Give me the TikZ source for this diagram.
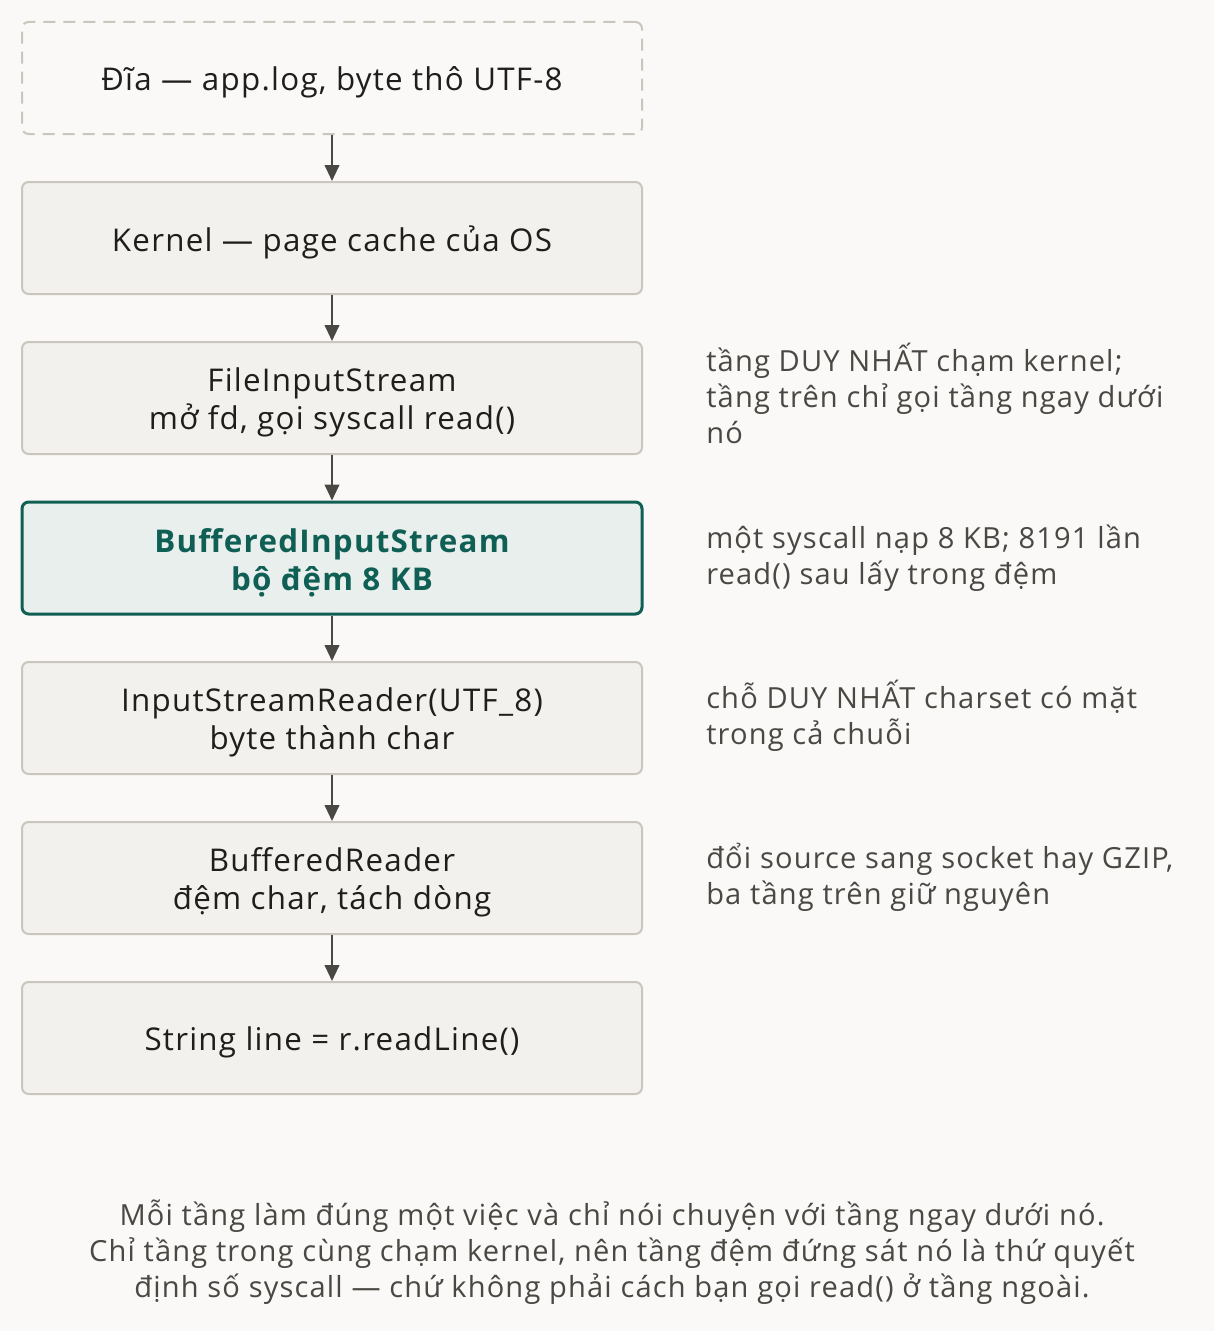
\documentclass[tikz,border=0pt]{standalone}
\usepackage{fontspec}
\setmainfont{Open Sans}[LetterSpace=4]
\usetikzlibrary{arrows.meta}
\definecolor{bg}{HTML}{FAF9F7}
\definecolor{boxfill}{HTML}{F2F1ED}
\definecolor{boxline}{HTML}{CAC6BE}
\definecolor{ink}{HTML}{1F1E1C}
\definecolor{note}{HTML}{4A4843}
\definecolor{teal}{HTML}{0F5F55}
\definecolor{tealfill}{HTML}{E8EFEC}
\definecolor{arrowc}{HTML}{4A4843}
\begin{document}
\begin{tikzpicture}[x=0.75pt,y=-0.75pt,
  layer/.style={draw=boxline, line width=1.5pt, fill=boxfill, rounded corners=5pt,
    minimum width=465pt, minimum height=84pt, inner sep=0pt},
  source/.style={layer, fill=none, dash pattern=on 9pt off 6pt},
  hilite/.style={layer, draw=teal, fill=tealfill, line width=2.25pt},
  boxtext/.style={align=center, text=ink, inner sep=0pt, yshift=-3.5pt,
    font=\fontsize{23.5}{28.5}\selectfont},
  hitext/.style={boxtext, text=teal, font=\fontsize{23.5}{28.5}\selectfont\bfseries},
  annot/.style={anchor=west, align=left, text=note, inner sep=0pt,
    font=\fontsize{21.8}{27}\selectfont},
  flow/.style={draw=arrowc, line width=1.5pt, -{Triangle[length=12pt,width=11pt]}},
  caption/.style={align=center, text=note, inner sep=0pt,
    font=\fontsize{21.8}{27}\selectfont}]
\fill[bg] (0,0) rectangle (1214,1331);
\useasboundingbox (0,0) rectangle (1214,1331);

\node[source] (disk) at (332,78) {};
\node[layer] (kernel) at (332,238) {};
\node[layer] (fis) at (332,398) {};
\node[hilite] (bis) at (332,558) {};
\node[layer] (isr) at (332,718) {};
\node[layer] (br) at (332,878) {};
\node[layer] (line) at (332,1038) {};

\node[boxtext] (disk-t) at (disk.center) {Đĩa — app.log, byte thô UTF-8};
\node[boxtext] (kernel-t) at (kernel.center) {Kernel — page cache của OS};
\node[boxtext] (fis-t) at (fis.center) {FileInputStream\\mở fd, gọi syscall read()};
\node[hitext] (bis-t) at (bis.center) {BufferedInputStream\\bộ đệm 8 KB};
\node[boxtext] (isr-t) at (isr.center) {InputStreamReader(UTF\_8)\\byte thành char};
\node[boxtext] (br-t) at (br.center) {BufferedReader\\đệm char, tách dòng};
\node[boxtext] (line-t) at (line.center) {String line = r.readLine()};

\draw[flow] (disk) -- (kernel);
\draw[flow] (kernel) -- (fis);
\draw[flow] (fis) -- (bis);
\draw[flow] (bis) -- (isr);
\draw[flow] (isr) -- (br);
\draw[flow] (br) -- (line);

\node[annot] (a1) at (706,393) {tầng DUY NHẤT chạm kernel;\\tầng trên chỉ gọi tầng ngay dưới\\nó};
\node[annot] (a2) at (706,558.5) {một syscall nạp 8 KB; 8191 lần\\read() sau lấy trong đệm};
\node[annot] (a3) at (706,715.5) {chỗ DUY NHẤT charset có mặt\\trong cả chuỗi};
\node[annot] (a4) at (706,877) {đổi source sang socket hay GZIP,\\ba tầng trên giữ nguyên};

\node[caption] (cap) at (612,1252) {Mỗi tầng làm đúng một việc và chỉ nói chuyện với tầng ngay dưới nó.\\Chỉ tầng trong cùng chạm kernel, nên tầng đệm đứng sát nó là thứ quyết\\định số syscall — chứ không phải cách bạn gọi read() ở tầng ngoài.};
\end{tikzpicture}
\end{document}
